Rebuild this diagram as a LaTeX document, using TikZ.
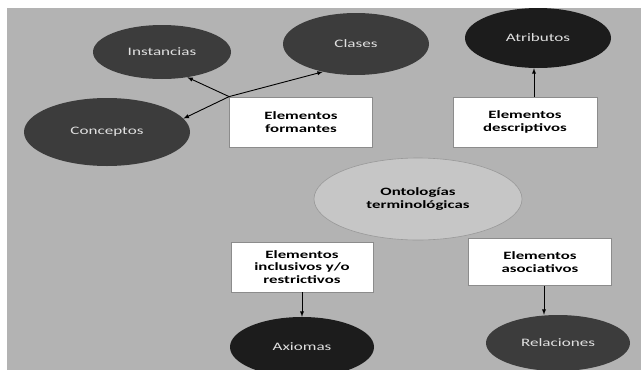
\documentclass[tikz,border=0pt]{standalone}
\usepackage{fontspec}
\setmainfont{Carlito}[FakeStretch=1.5]
\usetikzlibrary{shapes.geometric}
\definecolor{bggray}{HTML}{B3B3B3}
\definecolor{darkoval}{HTML}{3C3C3C}
\definecolor{blackoval}{HTML}{1C1C1C}
\definecolor{ovaltext}{HTML}{E0E0E0}
\definecolor{lightoval}{HTML}{C6C6C6}
\tikzset{
	oval/.style={ellipse, inner sep=0pt, fill=darkoval, text=ovaltext,
		font=\fontsize{11.4}{12.4}\selectfont},
	elembox/.style={rectangle, draw=black!45, line width=0.8pt, fill=white,
		align=center, font=\fontsize{11.2}{12.4}\selectfont\bfseries},
	link/.style={->, >=latex, line width=0.9pt}
}

\begin{document}
\begin{tikzpicture}[x=1pt, y=-1pt]
		%%%%% START %%%%%
		
		\useasboundingbox (0, 0) rectangle (641, 370);
		\clip (0, 0) rectangle (641, 370);
		\fill[color=bggray] (7, 8) rectangle (641, 370);
		
		\node[oval, minimum width=138, minimum height=54] (inst) at (162, 52) {Instancias};
		\node[oval, minimum width=146, minimum height=62] (clas) at (356, 44) {Clases};
		\node[oval, minimum width=166, minimum height=68] (conc) at (107, 132) {Conceptos};
		\node[oval, fill=blackoval, minimum width=146, minimum height=60] (atr) at (538, 38) {Atributos};
		
		\node[elembox, minimum width=143, minimum height=50] (form) at (301, 122) {Elementos\\formantes};
		\node[elembox, minimum width=144, minimum height=50] (desc) at (525, 122) {Elementos\\descriptivos};
		
		\node[ellipse, draw=black!40, line width=0.6pt, fill=lightoval, minimum width=208, minimum height=82,
			align=center, font=\fontsize{11.2}{12.4}\selectfont\bfseries] (onto) at (418, 199) {Ontologías\\terminológicas};
		
		\node[elembox, minimum width=142, minimum height=50] (incl) at (302, 267) {Elementos\\inclusivos y/o\\restrictivos};
		\node[elembox, minimum width=143, minimum height=47] (asoc) at (540, 262) {Elementos\\asociativos};
		
		\node[oval, fill=blackoval, minimum width=144, minimum height=60] (axi) at (302, 347) {Axiomas};
		\node[oval, minimum width=144, minimum height=56] (rel) at (558, 343) {Relaciones};
		
		\draw[link] (form.north west) -- (inst.-45);
		\draw[link] (form.north west) -- (clas.-140);
		\draw[link] (form.north west) -- (conc.10);
		
		\draw[link] ([xshift=9pt]desc.north) -- ([xshift=9pt]desc.north |- atr.south);
		\draw[link] (incl.south) -- (axi.north);
		\draw[link] ([xshift=4pt]asoc.south) -- ([xshift=4pt]asoc.south |- rel.north);
		
		%%%%% END %%%%%
	\end{tikzpicture}
\end{document}
